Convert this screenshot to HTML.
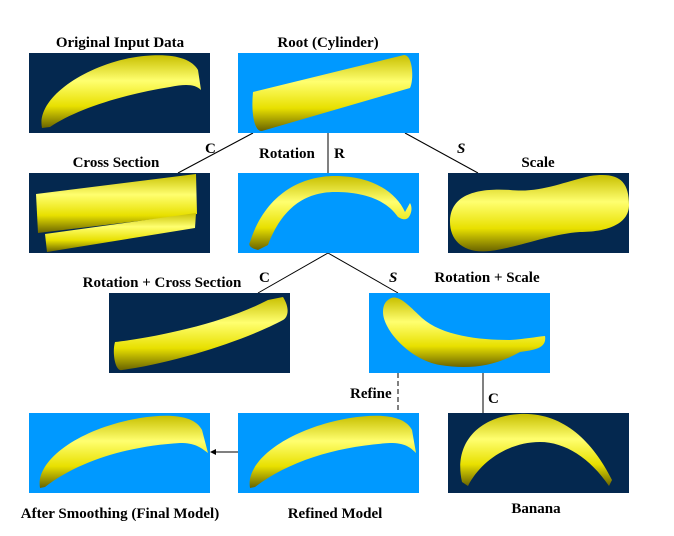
<!DOCTYPE html>
<html><head><style>
body{margin:0;background:#fff;width:674px;height:536px;overflow:hidden}
svg{display:block}
text{font-family:"Liberation Serif",serif;font-weight:bold;font-size:15px;fill:#000}
</style></head><body>
<svg width="674" height="536" viewBox="0 0 674 536">
<defs>
<linearGradient id="y" x1="0" y1="0" x2="0" y2="1">
<stop offset="0" stop-color="#c8c000"/><stop offset="0.35" stop-color="#ffff70"/><stop offset="0.7" stop-color="#e8e000"/><stop offset="1" stop-color="#6a6400"/>
</linearGradient>
</defs>
<g stroke="#000" stroke-width="1" fill="none">
<line x1="253" y1="133" x2="178" y2="173"/>
<line x1="328" y1="133" x2="328" y2="173"/>
<line x1="405" y1="133" x2="478" y2="173"/>
<line x1="328" y1="253" x2="258" y2="293"/>
<line x1="328" y1="253" x2="398" y2="293"/>
<line x1="398" y1="373" x2="398" y2="413" stroke-dasharray="5,3"/>
<line x1="483" y1="373" x2="483" y2="413"/>
<line x1="238" y1="452" x2="212" y2="452"/>
</g>
<polygon points="210,452 216,449 216,455" fill="#000"/>
<rect x="29" y="53" width="181" height="80" fill="#04284f"/>
<rect x="238" y="53" width="181" height="80" fill="#0099ff"/>
<rect x="29" y="173" width="181" height="80" fill="#04284f"/>
<rect x="238" y="173" width="181" height="80" fill="#0099ff"/>
<rect x="448" y="173" width="181" height="80" fill="#04284f"/>
<rect x="109" y="293" width="181" height="80" fill="#04284f"/>
<rect x="369" y="293" width="181" height="80" fill="#0099ff"/>
<rect x="29" y="413" width="181" height="80" fill="#0099ff"/>
<rect x="238" y="413" width="181" height="80" fill="#0099ff"/>
<rect x="448" y="413" width="181" height="80" fill="#04284f"/>
<path d="M42,128 C36,100 80,68 130,58 C165,52 190,56 198,70 L201,90 C195,84 185,84 170,87 C120,95 75,110 50,127 Z" fill="url(#y)"/>
<path d="M253,92 L404,55 C413,55 414,80 410,88 L262,131 C254,132 251,112 253,92 Z" fill="url(#y)"/>
<path d="M36,194 L196,174 L197,214 L38,233 Z" fill="url(#y)"/>
<path d="M45,234 L196,213 L195,228 L47,252 Z" fill="url(#y)"/>
<path d="M250,242 C265,195 300,176 335,176 C372,176 396,192 405,212 L410,203 C413,208 411,215 408,218 C404,221 400,218 398,217 C385,198 360,192 335,192 C305,192 282,208 268,245 L258,250 C250,248 248,245 250,242 Z" fill="url(#y)"/>
<path d="M450,222 C450,193 480,188 510,190 C540,193 560,183 590,176 C618,172 629,180 629,205 C629,225 605,232 580,232 C550,234 520,247 490,251 C463,254 450,240 450,222 Z" fill="url(#y)"/>
<path d="M115,342 C150,338 220,325 268,300 L283,297 C291,310 287,318 283,320 C250,338 180,362 122,370 C115,372 112,352 115,342 Z" fill="url(#y)"/>
<path d="M388,300 C397,292 408,305 422,318 C442,336 480,340 510,340 C525,339 535,337 545,336 C547,348 535,350 520,352 C495,366 470,370 440,365 C410,360 383,330 383,312 C383,306 385,302 388,300 Z" fill="url(#y)"/>
<path d="M40,488 C35,460 80,428 140,418 C172,413 195,416 202,430 L208,453 C200,447 195,443 180,443 C130,446 80,460 45,487 Z" fill="url(#y)"/>
<path d="M250,488 C245,460 290,428 350,418 C382,413 405,416 412,430 L416,453 C410,447 405,443 390,443 C340,446 290,460 255,487 Z" fill="url(#y)"/>
<path d="M462,482 C453,442 480,416 520,414 C562,412 592,440 612,480 L609,486 C590,458 565,442 540,442 C508,442 480,462 468,486 Z" fill="url(#y)"/>
<text x="120" y="47" text-anchor="middle">Original Input Data</text>
<text x="328" y="47" text-anchor="middle">Root (Cylinder)</text>
<text x="116" y="167" text-anchor="middle">Cross Section</text>
<text x="205" y="153">C</text>
<text x="259" y="158">Rotation</text>
<text x="334" y="158">R</text>
<text x="457" y="153" font-style="italic">S</text>
<text x="538" y="167" text-anchor="middle">Scale</text>
<text x="162" y="287" text-anchor="middle">Rotation + Cross Section</text>
<text x="259" y="282">C</text>
<text x="389" y="282" font-style="italic">S</text>
<text x="487" y="282" text-anchor="middle">Rotation + Scale</text>
<text x="350" y="398">Refine</text>
<text x="488" y="403">C</text>
<text x="120" y="518" text-anchor="middle">After Smoothing (Final Model)</text>
<text x="335" y="518" text-anchor="middle">Refined Model</text>
<text x="536" y="513" text-anchor="middle">Banana</text>
</svg>
</body></html>
